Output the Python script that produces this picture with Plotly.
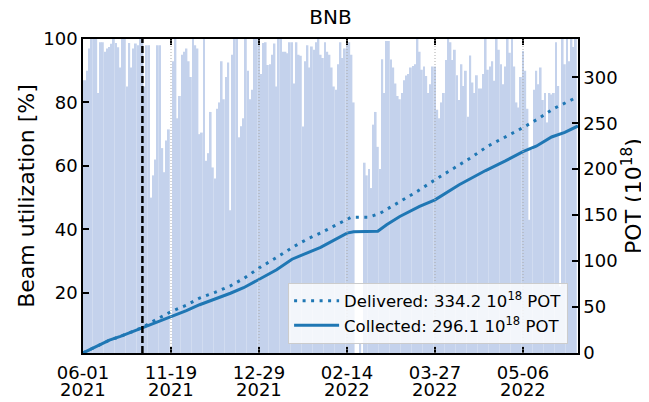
import plotly.graph_objects as go

# ---------------- data ----------------
utilization = [
    87, 87, 90, 97, 100, 100, 100, 83, 99, 99,
    96, 97, 97.5, 98.5, 100, 98.7, 97.4, 91, 100, 100,
    85, 98.7, 91, 97, 98.6, 98, 100, 100, 85, 98,
    98, 50, 57, 62, 98, 98, 65.6, 58, 68, 71.5,
    0, 93, 100, 75, 82, 95, 96, 97, 93, 88,
    100, 98, 97, 70, 70.5, 100, 61.6, 64, 77, 59.5,
    56, 78, 80, 93, 81, 88, 92.6, 46, 95, 100,
    100, 69, 72.5, 75, 100, 90, 81, 84, 100, 100,
    100, 89, 98.7, 99, 91.8, 92, 95, 98.6, 85, 100,
    100, 96, 96, 95.5, 99, 99, 86, 99, 95, 94.7,
    72.4, 93, 98, 91, 97.6, 96.6, 99, 100, 95, 94,
    99, 96, 95, 91, 85, 84, 92, 99, 94, 97,
    100, 99, 95, 80, 0, 0, 4, 1, 61, 57,
    59, 53, 73, 77, 66, 59, 93.6, 83, 99.4, 99.4,
    93.5, 91, 86, 82, 81, 83, 87, 88.5, 89, 91,
    91.5, 92, 100, 96, 90.3, 91.3, 88.3, 83, 85.7, 91.3,
    91.3, 77.7, 75, 80, 83, 93.4, 100, 99, 93.4, 96.6,
    88.6, 80.8, 92, 85.2, 90, 75.5, 94.8, 86.3, 83, 88.6,
    84.4, 84.4, 89, 100, 90.3, 91.3, 93, 86.8, 100, 96.6,
    92, 85.7, 91.3, 100, 95.7, 100, 91.3, 80, 78.4, 88,
    96.2, 90, 78, 43, 65, 84, 90, 85.7, 91, 80.8,
    83, 73.7, 83, 82.5, 83, 99, 85.2, 22, 100, 92,
    100, 93, 100, 97.5, 100,
]
day_index = list(range(len(utilization)))

collected_idx = [0, 6, 12, 17, 23, 27, 33, 40, 47, 53, 60, 67, 73, 80, 88, 95,
                 101, 108, 112, 120, 123, 128, 134, 138, 144, 153, 160, 171,
                 183, 192, 200, 206, 213, 219, 225]
collected_pot = [0, 7, 14, 18, 23.5, 27.8, 32.5, 39, 46, 52.5, 58.5, 65, 71, 79.7,
                 90.5, 102, 108, 115, 120, 130.4, 132, 132, 132.4, 139.5, 148.5,
                 159.4, 166.6, 183, 198.5, 209, 219, 225, 235, 240, 247]

delivered_idx = [0, 6, 12, 17, 23, 27, 33, 40, 47, 53, 60, 67, 73, 80, 88, 96,
                 102, 108, 114, 120, 122, 130, 135, 145, 152, 160, 168, 176,
                 184, 191, 200, 207, 214, 220, 225]
delivered_pot = [0, 7, 14, 18, 23.5, 27.8, 36, 45, 52, 59.8, 66, 73, 81, 92.4,
                 104, 116, 124, 130.5, 138, 145.6, 147.8, 147.8, 152, 166, 176,
                 188.4, 200, 212, 225, 233.7, 245.2, 255, 266, 273, 279]

tick_index = [0, 40, 80, 120, 160, 200]
tick_dates = ["06-01", "11-19", "12-29", "02-14", "03-27", "05-06"]
tick_years = ["2021", "2021", "2021", "2022", "2022", "2022"]
marker_day = 27

delivered_total = 334.2
collected_total = 296.1

# ---------------- figure ----------------
FONT = "DejaVu Sans"
BLUE = "#1f77b4"

fig = go.Figure()
fig.add_trace(go.Bar(x=day_index, y=utilization, marker_color="rgb(196,210,236)",
                     marker_line_width=0, showlegend=False, yaxis="y"))
fig.add_trace(go.Scatter(x=delivered_idx, y=delivered_pot, mode="lines", yaxis="y2",
                         line=dict(color=BLUE, width=3, dash="3px,5.5px"),
                         name=f"Delivered: {delivered_total} 10<sup>18</sup> POT",
                         legendgroup="d"))
fig.add_trace(go.Scatter(x=collected_idx, y=collected_pot, mode="lines", yaxis="y2",
                         line=dict(color=BLUE, width=3),
                         name=f"Collected: {collected_total} 10<sup>18</sup> POT",
                         legendgroup="c"))

for t in tick_index[1:]:
    fig.add_shape(type="line", xref="x", yref="paper", x0=t, x1=t, y0=0, y1=1,
                  line=dict(color="rgb(170,170,170)", width=1, dash="1px,2px"),
                  layer="above")
fig.add_shape(type="line", xref="x", yref="paper", x0=marker_day, x1=marker_day,
              y0=0, y1=1, line=dict(color="black", width=2.5, dash="7px,3px"),
              layer="above")

# second line of each date tick label (year), placed tighter than a <br> would be
for t, yr in zip(tick_index, tick_years):
    fig.add_annotation(x=t, xref="x", y=0, yref="paper", text=yr, showarrow=False,
                       xanchor="center", yanchor="middle", yshift=-36,
                       font=dict(family=FONT, size=18, color="black"))

axis_common = dict(showline=True, linecolor="black", linewidth=1.5, ticks="inside",
                   ticklen=6, tickwidth=1.5, tickcolor="black", showgrid=False,
                   zeroline=False, automargin=False,
                   tickfont=dict(family=FONT, size=18, color="black"))

# the page body adds an 8px offset, so the figure is made 8px smaller
fig.update_layout(
    template="none",
    width=641, height=394,
    margin=dict(l=75, r=71, t=31, b=49),
    paper_bgcolor="white", plot_bgcolor="white",
    font=dict(family=FONT, color="black"),
    title=dict(text="BNB", xref="paper", x=0.5, xanchor="center",
               yref="container", y=0.976, yanchor="middle",
               font=dict(family=FONT, size=20, color="black")),
    bargap=0.12,
    xaxis=dict(range=[0, 225], tickvals=tick_index, ticktext=tick_dates,
               mirror="ticks", ticklabelstandoff=3, **axis_common),
    yaxis=dict(range=[1, 100], tickvals=[20, 40, 60, 80, 100],
               title=dict(text="Beam utilization [%]", standoff=3,
                          font=dict(family=FONT, size=22, color="black")),
               **axis_common),
    yaxis2=dict(range=[0, 341.6], tickvals=[0, 50, 100, 150, 200, 250, 300],
                overlaying="y", side="right",
                title=dict(text="POT (10<sup>18</sup>)", standoff=8,
                           font=dict(family=FONT, size=22, color="black")),
                **axis_common),
    legend=dict(x=0.98, y=0.03, xanchor="right", yanchor="bottom",
                bgcolor="rgba(255,255,255,0.8)", bordercolor="rgb(204,204,204)",
                borderwidth=1, font=dict(family=FONT, size=16.5, color="black"),
                tracegroupgap=0, traceorder="grouped", itemwidth=45),
)

fig.write_html("out.html")
